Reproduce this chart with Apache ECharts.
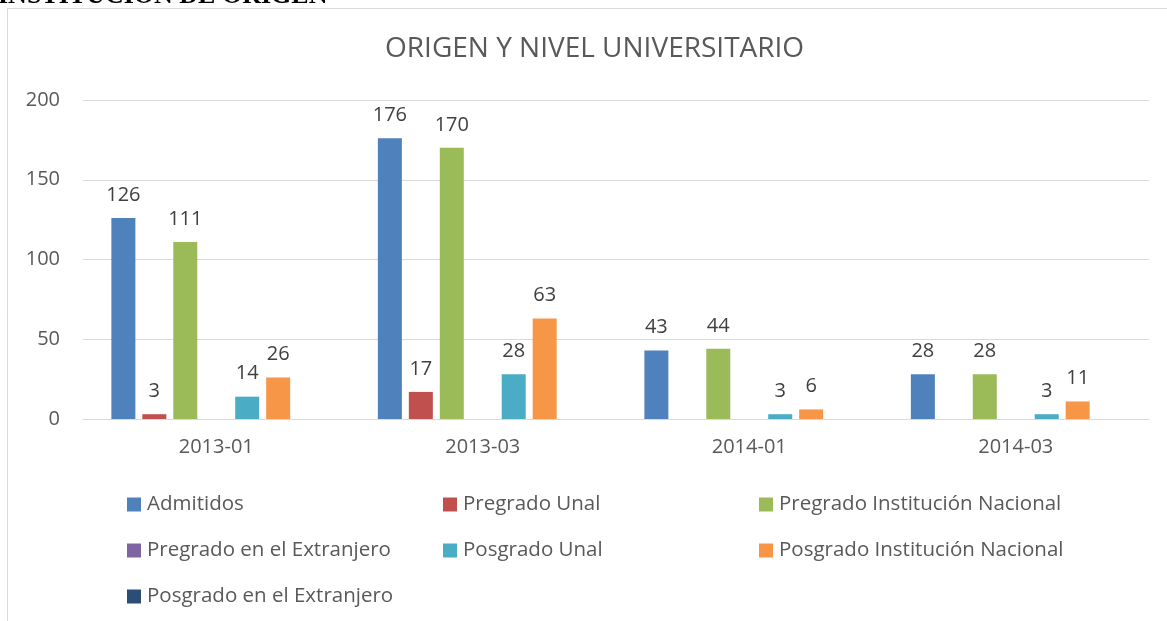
<!DOCTYPE html>
<html>
<head>
<meta charset="utf-8">
<script src="https://cdn.jsdelivr.net/npm/echarts@6/dist/echarts.min.js"></script>
<style>
  html, body { margin: 0; padding: 0; background: #fff; }
  #chart { width: 1167px; height: 621px; }
</style>
</head>
<body>
<div id="chart"></div>
<script>
const chart = echarts.init(document.getElementById('chart'))

const fontFamily = 'Open Sans'
const textColor = '#595959'
const labelColor = '#404040'

const categories = ['2013-01', '2013-03', '2014-01', '2014-03']
const seriesNames = [
  'Admitidos',
  'Pregrado Unal',
  'Pregrado Institución Nacional',
  'Pregrado en el Extranjero',
  'Posgrado Unal',
  'Posgrado Institución Nacional',
  'Posgrado en el Extranjero',
]
const colors = ['#4F81BD', '#C0504D', '#9BBB59', '#8064A2', '#4BACC6', '#F79646', '#2C4D75']

const admitidos = [126, 176, 43, 28]
const pregradoUnal = [3, 17, null, null]
const pregradoNacional = [111, 170, 44, 28]
const pregradoExtranjero = [null, null, null, null]
const posgradoUnal = [14, 28, 3, 3]
const posgradoNacional = [26, 63, 6, 11]
const posgradoExtranjero = [null, null, null, null]

const seriesValues = [
  admitidos,
  pregradoUnal,
  pregradoNacional,
  pregradoExtranjero,
  posgradoUnal,
  posgradoNacional,
  posgradoExtranjero,
]

const series = seriesNames.map((name, i) => ({
  name,
  type: 'bar',
  data: seriesValues[i],
  barWidth: 24,
  barGap: '29%',
  itemStyle: { color: colors[i] },
  label: {
    show: true,
    position: 'top',
    distance: 13,
    color: labelColor,
    fontFamily,
    fontSize: 20,
  },
}))

const legendStyle = {
  orient: 'vertical',
  top: 489,
  itemWidth: 14,
  itemHeight: 14,
  itemGap: 25,
  icon: 'rect',
  textStyle: { color: textColor, fontFamily, fontSize: 20.5, lineHeight: 20, padding: [0, 0, 0, 1] },
}

const option = {
  animation: false,
  color: colors,
  title: {
    text: 'ORIGEN Y NIVEL UNIVERSITARIO',
    left: 380,
    top: 30,
    textStyle: {
      color: textColor,
      fontFamily,
      fontWeight: 'normal',
      fontSize: 28,
    },
  },
  graphic: [
    {
      type: 'rect',
      shape: { x: 7.5, y: 8.5, width: 1300, height: 700 },
      style: { fill: 'none', stroke: '#d9d9d9', lineWidth: 1 },
      silent: true,
    },
    {
      type: 'text',
      left: -2,
      top: -17,
      style: {
        text: 'INSTITUCIÓN DE ORIGEN',
        font: 'bold 26px "Liberation Serif"',
        fill: '#000',
      },
    },
  ],
  legend: [
    Object.assign({}, legendStyle, {
      left: 122,
      data: [seriesNames[0], seriesNames[3], seriesNames[6]],
    }),
    Object.assign({}, legendStyle, {
      left: 438,
      data: [seriesNames[1], seriesNames[4]],
    }),
    Object.assign({}, legendStyle, {
      left: 754,
      data: [seriesNames[2], seriesNames[5]],
    }),
  ],
  grid: {
    left: 83,
    right: 18,
    top: 100,
    bottom: 202,
  },
  xAxis: {
    type: 'category',
    data: categories,
    axisLine: { lineStyle: { color: '#d9d9d9', width: 1 } },
    axisTick: { show: false },
    axisLabel: {
      color: textColor,
      fontFamily,
      fontSize: 20,
      margin: 18,
    },
  },
  yAxis: {
    type: 'value',
    min: 0,
    max: 200,
    interval: 50,
    axisLine: { show: false },
    axisTick: { show: false },
    splitLine: { lineStyle: { color: '#d9d9d9', width: 1 } },
    axisLabel: {
      color: textColor,
      fontFamily,
      fontSize: 20,
      margin: 23,
    },
  },
  series,
}

chart.setOption(option)
</script>
</body>
</html>
